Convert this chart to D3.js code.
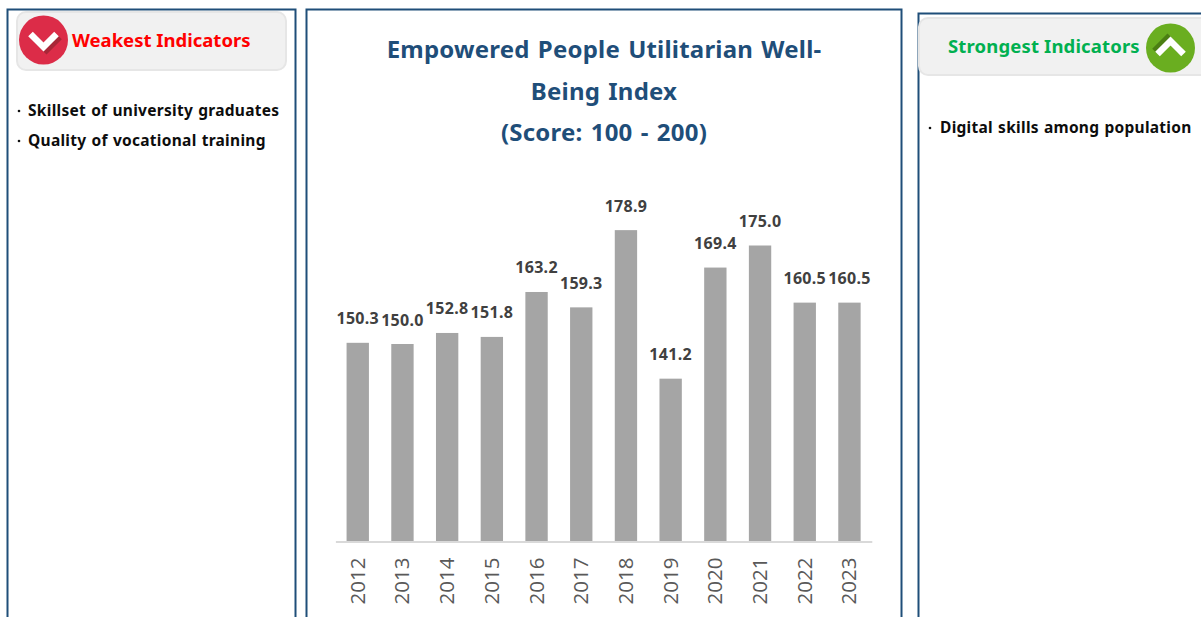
<!DOCTYPE html>
<html><head><meta charset="utf-8">
<script src="https://cdn.jsdelivr.net/npm/d3@7"></script>
<style>html,body{margin:0;padding:0;background:#fff;overflow:hidden}svg{display:block}text{font-family:"Noto Sans",sans-serif}</style>
</head><body><svg id="c" width="1201" height="617"></svg>
<script>
const years = ["2012","2013","2014","2015","2016","2017","2018","2019","2020","2021","2022","2023"];
const scores = [150.3,150.0,152.8,151.8,163.2,159.3,178.9,141.2,169.4,175.0,160.5,160.5];
const titleLines = ["Empowered People Utilitarian Well-","Being Index","(Score: 100 - 200)"];
const weakest = ["Skillset of university graduates","Quality of vocational training"];
const strongest = ["Digital skills among population"];

const svg = d3.select("#c");
const border = "#1f4e79";
function panel(x,y,w,h){svg.append("rect").attr("x",x+.5).attr("y",y+.5).attr("width",w).attr("height",h).attr("fill","#fff").attr("stroke",border).attr("stroke-width",2);}
panel(7,9,288,640); panel(306,9,595,640); panel(918,13,300,640);

function header(x,y,w,h){svg.append("rect").attr("x",x).attr("y",y).attr("width",w).attr("height",h).attr("rx",9).attr("fill","#f1f1f1").attr("stroke","#e6e6e6").attr("stroke-width",2);}
header(17,12,269,58); header(919,18,300,57);

function icon(cx,cy,fill,up){
  svg.append("circle").attr("cx",cx).attr("cy",cy).attr("r",24.5).attr("fill",fill);
  const d=up?-1:1;
  const pts=[[-13,-6*d],[0,7*d],[13,-6*d]];
  const line=d3.line();
  svg.append("path").attr("d",line(pts.map(p=>[cx+p[0]+(up?-3:3),cy+p[1]+(up?-3:3)]))).attr("fill","none").attr("stroke",up?"rgba(50,90,10,.55)":"rgba(90,30,30,.4)").attr("stroke-width",6.5);
  svg.append("path").attr("d",line(pts.map(p=>[cx+p[0],cy+p[1]]))).attr("fill","none").attr("stroke","#fff").attr("stroke-width",6.5);
}
icon(43.5,40,"#dc2c48",false);
icon(1170.5,48,"#6aae20",true);

svg.append("text").attr("x",72).attr("y",47).attr("fill","#ff0000").attr("font-size",18.5).attr("font-weight",700).text("Weakest Indicators");
svg.append("text").attr("x",948).attr("y",53).attr("fill","#00b050").attr("font-size",18.5).attr("font-weight",700).attr("letter-spacing",0.15).text("Strongest Indicators");

function bullets(items,bx,tx,y0,dy){
  items.forEach((t,i)=>{
    svg.append("circle").attr("cx",bx).attr("cy",y0+dy*i-5).attr("r",1.3).attr("fill","#111");
    svg.append("text").attr("x",tx).attr("y",y0+dy*i).attr("fill","#0d0d0d").attr("font-size",15.5).attr("font-weight",700)
      .attr("letter-spacing",0.28).attr("word-spacing",0.8).text(t);
  });
}
bullets(weakest,19,28,116,30);
bullets(strongest,930,940,133,30);

svg.append("g").selectAll("text").data(titleLines).join("text")
  .attr("x",604).attr("y",(d,i)=>58+i*41.5).attr("text-anchor","middle")
  .attr("fill","#1f4e79").attr("font-size",24).attr("font-weight",700)
  .attr("letter-spacing",0.2).attr("word-spacing",1.8).text(d=>d);

const x = d3.scaleBand().domain(years).range([335.4,871.8]).paddingInner(0.5).paddingOuter(0.25);
const y = d3.scaleLinear().domain([100,200]).range([541,147]);

svg.append("g").selectAll("rect").data(years).join("rect")
  .attr("x",d=>x(d)).attr("width",x.bandwidth())
  .attr("y",(d,i)=>y(scores[i])).attr("height",(d,i)=>y(100)-y(scores[i]))
  .attr("fill","#a5a5a5");

const ax = svg.append("g").attr("transform","translate(0,541.5)").call(d3.axisBottom(x).tickSize(0).tickPadding(0));
ax.select(".domain").attr("stroke","#d9d9d9").attr("stroke-width",2);
ax.selectAll("text").attr("font-size",20.5).attr("fill","#595959").style("font-family","'Open Sans',sans-serif")
  .attr("transform","translate(7,63) rotate(-90)").attr("x",0).attr("y",0).attr("dy",0).attr("text-anchor","start");

svg.append("g").selectAll("text").data(years).join("text")
  .attr("x",d=>x(d)+x.bandwidth()/2).attr("y",(d,i)=>y(scores[i])-18.5)
  .attr("text-anchor","middle").attr("fill","#404040").attr("font-size",16).attr("font-weight",700).attr("letter-spacing",0.3)
  .text((d,i)=>scores[i].toFixed(1));
</script></body></html>
